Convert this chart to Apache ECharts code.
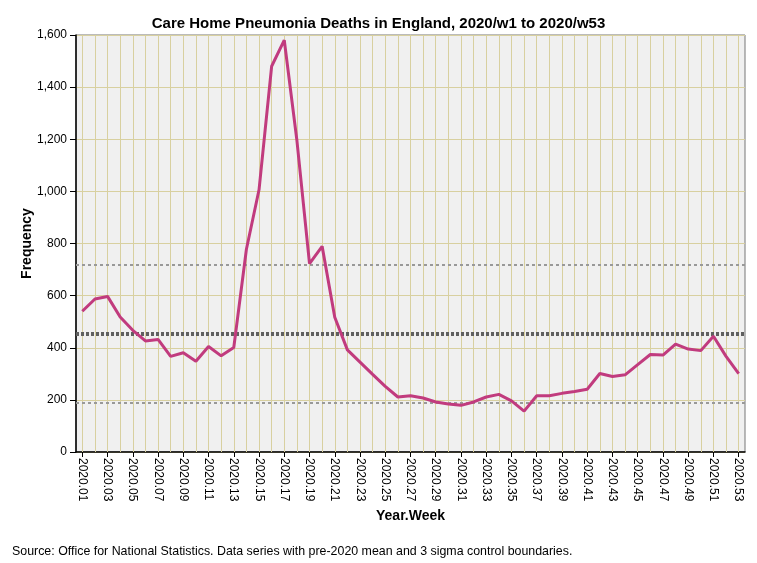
<!DOCTYPE html>
<html>
<head>
<meta charset="utf-8">
<script src="https://cdn.jsdelivr.net/npm/echarts@6/dist/echarts.min.js"></script>
<style>html,body{margin:0;padding:0;background:#fff;}#c{width:757px;height:563px;}</style>
</head>
<body>
<div id="c"></div>
<script>
var weeks = [];
for (var i = 1; i <= 53; i++) weeks.push('2020.' + (i < 10 ? '0' + i : '' + i));
var deaths = [540, 587, 597, 518, 467, 426, 432, 367, 381, 348,
              405, 369, 401, 778, 1006, 1480, 1580, 1196, 723, 789,
              517, 392, 345, 298, 252, 211, 216, 207, 192, 184,
              179, 192, 211, 221, 196, 157, 216, 216, 225, 232,
              241, 301, 290, 296, 335, 374, 372, 414, 395, 389,
              444, 367, 301];
var meanLine = 455;
var upperLine = 720;
var lowerLine = 190;
var yTicks = [0, 200, 400, 600, 800, 1000, 1200, 1400, 1600];

var FONT = 'Liberation Sans, Arial, sans-serif';
var chart = echarts.init(document.getElementById('c'));
chart.setOption({
  animation: false,
  backgroundColor: '#ffffff',
  title: [{
    text: 'Care Home Pneumonia Deaths in England, 2020/w1 to 2020/w53',
    left: 'center', top: 11,
    textStyle: {fontFamily: FONT, fontSize: 15, fontWeight: 'bold', color: '#000'}
  }, {
    text: 'Source: Office for National Statistics. Data series with pre-2020 mean and 3 sigma control boundaries.',
    left: 7, top: 541,
    textStyle: {fontFamily: FONT, fontSize: 12.4, fontWeight: 'normal', color: '#000'}
  }],
  grid: {left: 76, right: 12, top: 35, bottom: 111, show: true,
         backgroundColor: '#f0f0f0', borderColor: '#777', borderWidth: 1},
  xAxis: {
    type: 'category', data: weeks, boundaryGap: true,
    name: 'Year.Week', nameLocation: 'middle', nameGap: 57,
    nameTextStyle: {fontFamily: FONT, fontSize: 14, fontWeight: 'bold', color: '#000'},
    axisLine: {lineStyle: {color: '#000', width: 1.5}},
    axisTick: {show: true, interval: 1, alignWithLabel: true, length: 5, lineStyle: {color: '#000'}},
    axisLabel: {interval: 1, rotate: -90, fontFamily: FONT, fontSize: 12, color: '#000', margin: 6},
    splitLine: {show: false}
  },
  yAxis: {
    type: 'value', min: yTicks[0], max: yTicks[yTicks.length - 1], interval: 200,
    name: 'Frequency', nameLocation: 'middle', nameGap: 42, nameMoveOverlap: false,
    nameTextStyle: {fontFamily: FONT, fontSize: 14, fontWeight: 'bold', color: '#000'},
    axisLine: {show: true, lineStyle: {color: '#000', width: 1.5}},
    axisTick: {show: true, length: 6, lineStyle: {color: '#000'}},
    axisLabel: {fontFamily: FONT, fontSize: 12, color: '#000', margin: 9,
                formatter: function (v) { return v.toLocaleString('en-US'); }},
    splitLine: {show: true, lineStyle: {color: '#d8d0a0', width: 1}}
  },
  series: [{
    type: 'line', data: deaths, z: 1, silent: true, symbol: 'none',
    lineStyle: {opacity: 0},
    markLine: {
      silent: true, symbol: 'none', label: {show: false}, animation: false,
      lineStyle: {color: '#d8d0a0', width: 1, type: 'solid'},
      data: weeks.map(function (w) { return {xAxis: w}; })
    }
  }, {
    type: 'line', data: deaths, z: 2, silent: true, symbol: 'none',
    lineStyle: {opacity: 0},
    markLine: {
      silent: true, symbol: 'none', label: {show: false}, animation: false,
      data: [
        {yAxis: meanLine, lineStyle: {color: '#606060', width: 4, type: [3, 2]}},
        {yAxis: upperLine, lineStyle: {color: '#999', width: 2, type: [3, 3]}},
        {yAxis: lowerLine, lineStyle: {color: '#999', width: 2, type: [3, 3]}}
      ]
    }
  }, {
    type: 'line', data: deaths, z: 5, symbol: 'none', smooth: false,
    lineStyle: {color: '#c13b7e', width: 3}
  }]
});
</script>
</body>
</html>
